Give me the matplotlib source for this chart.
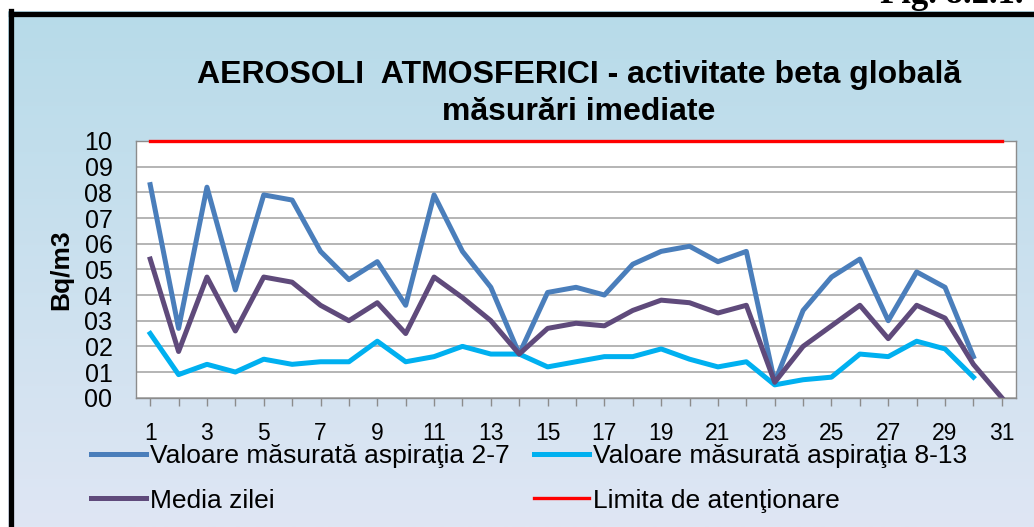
"""Aerosoli atmosferici - activitate beta globala, masurari imediate."""

import matplotlib

matplotlib.use("Agg")
import matplotlib.pyplot as plt
import numpy as np
from matplotlib.colors import LinearSegmentedColormap
from matplotlib.lines import Line2D

W, H = 1034, 527

_BLUE = "#4a7ebb"
_CYAN = "#00b0f0"
_PURPLE = "#5f4a7b"
_RED = "#ff0000"
_GRID = "#a0a0a0"
_SPINE = "#8c8c8c"
_BG_TOP = "#b7dbe9"
_BG_BOTTOM = "#dfe6f4"

days = list(range(1, 32))
aspiratia_2_7 = [0.83, 0.27, 0.82, 0.42, 0.79, 0.77, 0.57, 0.46, 0.53, 0.36,
                 0.79, 0.57, 0.43, 0.17, 0.41, 0.43, 0.40, 0.52, 0.57, 0.59,
                 0.53, 0.57, 0.06, 0.34, 0.47, 0.54, 0.30, 0.49, 0.43, 0.16]
aspiratia_8_13 = [0.25, 0.09, 0.13, 0.10, 0.15, 0.13, 0.14, 0.14, 0.22, 0.14,
                  0.16, 0.20, 0.17, 0.17, 0.12, 0.14, 0.16, 0.16, 0.19, 0.15,
                  0.12, 0.14, 0.05, 0.07, 0.08, 0.17, 0.16, 0.22, 0.19, 0.08]
media_zilei = [0.54, 0.18, 0.47, 0.26, 0.47, 0.45, 0.36, 0.30, 0.37, 0.25,
               0.47, 0.39, 0.30, 0.17, 0.27, 0.29, 0.28, 0.34, 0.38, 0.37,
               0.33, 0.36, 0.06, 0.20, 0.28, 0.36, 0.23, 0.36, 0.31, 0.13, 0.00]
limita_atentionare = 1.0

y_ticks = [0.0, 0.1, 0.2, 0.3, 0.4, 0.5, 0.6, 0.7, 0.8, 0.9, 1.0]
y_tick_labels = ["00", "01", "02", "03", "04", "05", "06", "07", "08", "09", "10"]
x_tick_labels = [str(d) if d % 2 == 1 else "" for d in days]

labels = [
    "Valoare măsurată aspiraţia 2-7",
    "Valoare măsurată aspiraţia 8-13",
    "Media zilei",
    "Limita de atenţionare",
]

plt.rcParams["font.family"] = ["Liberation Sans", "DejaVu Sans"]


def px(x, y):
    """pixel coords (top-left origin) -> figure fraction"""
    return x / W, 1 - y / H


fig = plt.figure(figsize=(W / 100, H / 100), dpi=100)
fig.patch.set_facecolor("white")

# gradient frame background
bg = fig.add_axes([8 / W, 0, 1 - 8 / W, 1 - 11 / H], zorder=-2)
cmap = LinearSegmentedColormap.from_list("bg", [_BG_TOP, _BG_BOTTOM])
bg.imshow(np.linspace(0, 1, 256).reshape(-1, 1), cmap=cmap, aspect="auto",
          extent=(0, 1, 0, 1), origin="upper")
bg.set_axis_off()

# black frame (left + top edges)
fig.add_artist(Line2D([10.5 / W, 10.5 / W], [0, 1 - 11 / H], color="black",
                      lw=3.8, transform=fig.transFigure, solid_capstyle="projecting"))
fig.add_artist(Line2D([10.5 / W, 1], [1 - 13.5 / H, 1 - 13.5 / H], color="black",
                      lw=3.8, transform=fig.transFigure, solid_capstyle="projecting"))

# figure number, cut by the page edge as in the scan
fig.text(1023 / W, 1 - 3 / H, "Fig. 8.2.1.", family="Liberation Serif",
         fontweight="bold", fontsize=25, ha="right", va="baseline")

left, top = 136, 141
right, bottom = 1016, 397.7
ax = fig.add_axes([left / W, 1 - bottom / H, (right - left) / W, (bottom - top) / H])
ax.set_facecolor("white")

ax.plot(days[:len(aspiratia_2_7)], aspiratia_2_7, color=_BLUE, lw=3.6,
        solid_joinstyle="round", label=labels[0])
ax.plot(days[:len(aspiratia_8_13)], aspiratia_8_13, color=_CYAN, lw=3.6,
        solid_joinstyle="round", label=labels[1])
ax.plot(days, media_zilei, color=_PURPLE, lw=3.6, solid_joinstyle="round",
        label=labels[2])
ax.plot([days[0], days[-1]], [limita_atentionare, limita_atentionare],
        color=_RED, lw=2.4, label=labels[3], clip_on=False, zorder=5)

ax.set_xlim(0.5, 31.5)
ax.set_ylim(0, 1.0)
ax.set_yticks(y_ticks)
ax.set_yticklabels(y_tick_labels)
ax.set_xticks(days)
ax.set_xticklabels(x_tick_labels)
ax.yaxis.grid(True, color=_GRID, lw=1.1)
ax.set_axisbelow(True)
ax.tick_params(axis="y", length=0, pad=17, labelsize=18)
ax.tick_params(axis="x", direction="out", length=6, width=1, color=_SPINE,
               pad=11.5, labelsize=16.5)
for spine in ax.spines.values():
    spine.set_color(_SPINE)
    spine.set_linewidth(1)

fig.text(61 / W, 1 - 270 / H, "Bq/m3", rotation=90, fontsize=19, fontweight="bold",
         ha="center", va="center")

fig.text(579 / W, 1 - 83 / H, "AEROSOLI  ATMOSFERICI - activitate beta globală",
         fontsize=23, fontweight="bold", ha="center", va="baseline")
fig.text(579 / W, 1 - 120 / H, "măsurări imediate",
         fontsize=23, fontweight="bold", ha="center", va="baseline")

handles, hlabels = ax.get_legend_handles_labels()
order = [0, 2, 1, 3]
ax.legend([handles[i] for i in order], [hlabels[i] for i in order],
          loc="upper left", bbox_to_anchor=px(91, 444), bbox_transform=fig.transFigure,
          ncol=2, frameon=False, fontsize=19, borderpad=0, borderaxespad=0,
          handlelength=2.1, handletextpad=0.15, columnspacing=0.9, labelspacing=0.78)

fig.savefig("out.png", dpi=100)
